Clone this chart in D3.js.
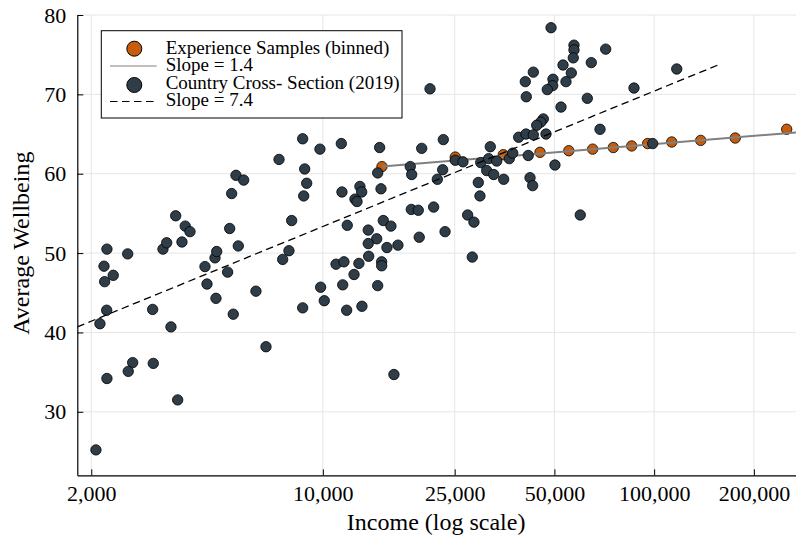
<!DOCTYPE html>
<html>
<head>
<meta charset="utf-8">
<script src="https://cdn.jsdelivr.net/npm/d3@7"></script>
<style>
  body { margin: 0; background: #fff; }
  svg text { font-family: "Liberation Serif", "Times New Roman", serif; fill: #000; }
</style>
</head>
<body>
<svg id="canvas" width="796" height="536"></svg>
<script>
// experience samples (binned)
var esIncome = [15080, 25100, 35040, 45240, 55260, 65220, 75280, 85540, 95600, 113000, 138200, 175700, 251200]
var esWellbeing = [60.9, 62.1, 62.4, 62.7, 62.9, 63.1, 63.3, 63.5, 63.8, 64.0, 64.2, 64.5, 65.6]

// country cross-section (2019)
var countryIncome = [
    2230, 2185, 2330, 2195, 2576, 2226, 2124, 2667, 2586, 2230, 2066, 3064, 3077, 3480, 3646,
    3292, 3378, 3596, 3843, 3756, 3972, 4408, 4470, 4726, 4782, 4758, 5234, 5160,
    8692, 9800, 11370, 14840, 7374, 8814, 5468, 5768, 5306, 8938, 8754, 11420, 12940, 13100,
    12500, 12680, 14640, 14980, 18360, 18540, 18490, 19410, 8052, 5556, 11850, 13710, 15220,
    16050, 14540, 13710, 15610, 16850, 19540, 7902, 7564, 10960, 11580, 12850, 13750, 15050,
    15050, 6282, 5366, 8692, 9848, 10100, 11480, 12420, 11800, 13120, 14640, 6736, 16390,
    48840, 57280, 57280, 57000, 71400, 53080, 64600, 43180, 40840, 49500, 49400, 47580, 56220,
    54180, 21060, 41120, 62840, 52340, 68640, 46280, 45460, 44200, 39000, 41040, 43180, 47160,
    23100, 19880, 32020, 25100, 26480, 29960, 31660, 33480, 36540, 37420, 41680, 50180, 23000,
    22160, 31220, 32780, 35140, 29460, 29800, 42200, 42980, 21600, 27360, 28580, 23380, 59840,
    28250, 86920, 117000, 98980
]
var countryWellbeing = [
    50.5, 48.35, 47.2, 46.4, 49.9, 42.8, 41.1, 36.2, 35.1, 34.2, 25.2, 42.9, 36.1, 40.7, 31.5,
    50.5, 51.3, 54.7, 53.4, 51.4, 52.7, 48.3, 46.1, 49.4, 50.2, 44.3, 53.1, 47.6,
    64.4, 63.1, 63.8, 63.3, 61.8, 60.6, 59.8, 59.2, 57.5, 58.8, 57.2, 57.7, 58.4, 57.7,
    56.8, 56.5, 60.1, 58.1, 60.9, 59.9, 55.5, 55.4, 54.1, 50.9, 53.5, 52.9, 54.1,
    53.4, 51.8, 51.2, 50.7, 51.0, 52.0, 50.3, 49.2, 48.6, 48.9, 48.7, 49.6, 48.9,
    48.4, 45.2, 42.3, 43.1, 45.7, 44.0, 46.0, 47.3, 42.8, 43.3, 45.9, 38.2, 34.7,
    78.4, 76.2, 75.6, 74.6, 75.7, 73.7, 74.0, 72.8, 71.6, 71.9, 71.1, 70.6, 72.7,
    71.6, 70.7, 69.7, 69.5, 68.4, 65.6, 66.9, 66.5, 66.1, 64.6, 65.0, 64.9, 65.0,
    64.3, 63.2, 63.4, 61.7, 61.5, 61.4, 61.9, 61.6, 61.9, 62.6, 62.3, 61.1, 60.5,
    59.3, 60.4, 59.9, 59.3, 58.9, 57.2, 59.5, 58.5, 55.8, 54.8, 53.9, 52.7, 54.8,
    49.5, 70.8, 73.2, 63.8
]

// fitted lines (end points)
var esFitIncome = [15080, 268000]
var esFitValue = [60.9, 65.2]
var countryFitIncome = [1815, 158000]
var countryFitValue = [40.7, 73.8]

var xTicks = [2000, 10000, 25000, 50000, 100000, 200000]
var yTicks = [30, 40, 50, 60, 70, 80]

var legendLabels = ['Experience Samples (binned)', 'Slope = 1.4', 'Country Cross- Section (2019)', 'Slope = 7.4']

var orange = '#c65c0c'
var slate = '#2e3d48'

window.onload = function() {
    MakeChart();
}

function MakeChart() {
    var svg = d3.select('#canvas')
    var left = 77.3, right = 796, top = 15, bottom = 475.3

    var x = d3.scaleLog().domain([1815, 268000]).range([left, right])
    var y = d3.scaleLinear().domain([22, 80]).range([bottom, top])

    svg.append('defs').append('clipPath').attr('id', 'plotclip')
        .append('rect')
        .attr('x', left).attr('y', top - 10)
        .attr('width', right - left).attr('height', bottom - top + 10)

    // grid
    svg.append('g').selectAll('line').data(xTicks).join('line')
        .attr('x1', d => x(d)).attr('x2', d => x(d))
        .attr('y1', top).attr('y2', bottom)
        .style('stroke', '#e6e6e6').style('stroke-width', 1)
    svg.append('g').selectAll('line').data(yTicks).join('line')
        .attr('x1', left).attr('x2', right)
        .attr('y1', d => y(d)).attr('y2', d => y(d))
        .style('stroke', '#e6e6e6').style('stroke-width', 1)

    // axes, ticks point into the plot
    var xAxis = d3.axisBottom(x).tickValues(xTicks).tickFormat(d3.format(',')).tickSizeInner(-6).tickSizeOuter(0).tickPadding(10)
    var gx = svg.append('g').attr('transform', 'translate(0,' + bottom + ')').call(xAxis)
    gx.selectAll('text').style('font-size', '22px').style('font-family', '"Liberation Serif", serif').attr('dy', '0.72em')

    var yAxis = d3.axisLeft(y).tickValues(yTicks).tickSizeInner(-6).tickSizeOuter(0).tickPadding(11)
    var gy = svg.append('g').attr('transform', 'translate(' + left + ',0)').call(yAxis)
    gy.selectAll('text').style('font-size', '22px').style('font-family', '"Liberation Serif", serif')

    svg.selectAll('.domain').style('stroke', '#000').style('stroke-width', 1.2)
    svg.selectAll('.tick line').style('stroke', '#000')

    var plot = svg.append('g').attr('clip-path', 'url(#plotclip)')

    // experience samples
    plot.append('g').selectAll('circle').data(esIncome).join('circle')
        .attr('cx', d => x(d))
        .attr('cy', (d, i) => y(esWellbeing[i]))
        .attr('r', 5.2)
        .style('fill', orange).style('stroke', '#000').style('stroke-width', 0.8)

    var line = d3.line().x(d => x(d[0])).y(d => y(d[1]))

    plot.append('path')
        .datum(esFitIncome.map((d, i) => [d, esFitValue[i]]))
        .attr('d', line)
        .style('fill', 'none').style('stroke', '#808080').style('stroke-width', 2)

    // countries
    plot.append('g').selectAll('circle').data(countryIncome).join('circle')
        .attr('cx', d => x(d))
        .attr('cy', (d, i) => y(countryWellbeing[i]))
        .attr('r', 5.2)
        .style('fill', slate).style('stroke', '#000').style('stroke-width', 0.8)

    plot.append('path')
        .datum(countryFitIncome.map((d, i) => [d, countryFitValue[i]]))
        .attr('d', line)
        .style('fill', 'none').style('stroke', '#000').style('stroke-width', 1.3)
        .style('stroke-dasharray', '7.5,4.5')

    // axis titles
    svg.append('text')
        .attr('x', (left + right) / 2 - 0.5).attr('y', 530)
        .attr('text-anchor', 'middle')
        .style('font-size', '24px')
        .text('Income (log scale)')
    svg.append('text')
        .attr('transform', 'translate(29,' + ((top + bottom) / 2 - 2) + ') rotate(-90)')
        .attr('text-anchor', 'middle')
        .style('font-size', '24px')
        .text('Average Wellbeing')

    // legend
    var lg = svg.append('g')
    lg.append('rect')
        .attr('x', 101.3).attr('y', 30.7).attr('width', 300.7).attr('height', 87.3)
        .style('fill', '#fff').style('stroke', '#000').style('stroke-width', 1)

    var rowY = [48.7, 66, 85, 101.5]
    lg.append('circle').attr('cx', 134.3).attr('cy', rowY[0]).attr('r', 7.5)
        .style('fill', orange).style('stroke', '#000').style('stroke-width', 1)
    lg.append('line').attr('x1', 110).attr('x2', 156.7).attr('y1', rowY[1]).attr('y2', rowY[1])
        .style('stroke', '#808080').style('stroke-width', 1.2)
    lg.append('circle').attr('cx', 134.3).attr('cy', rowY[2]).attr('r', 7.5)
        .style('fill', slate).style('stroke', '#000').style('stroke-width', 1)
    lg.append('line').attr('x1', 110).attr('x2', 156.7).attr('y1', rowY[3]).attr('y2', rowY[3])
        .style('stroke', '#000').style('stroke-width', 1.2).style('stroke-dasharray', '7.5,4.5')

    lg.selectAll('text.lab').data(legendLabels).join('text')
        .attr('class', 'lab')
        .attr('x', 165.7)
        .attr('y', (d, i) => [54, 71.3, 88.7, 106][i])
        .style('font-size', '19px')
        .text(d => d)
}
</script>
</body>
</html>
